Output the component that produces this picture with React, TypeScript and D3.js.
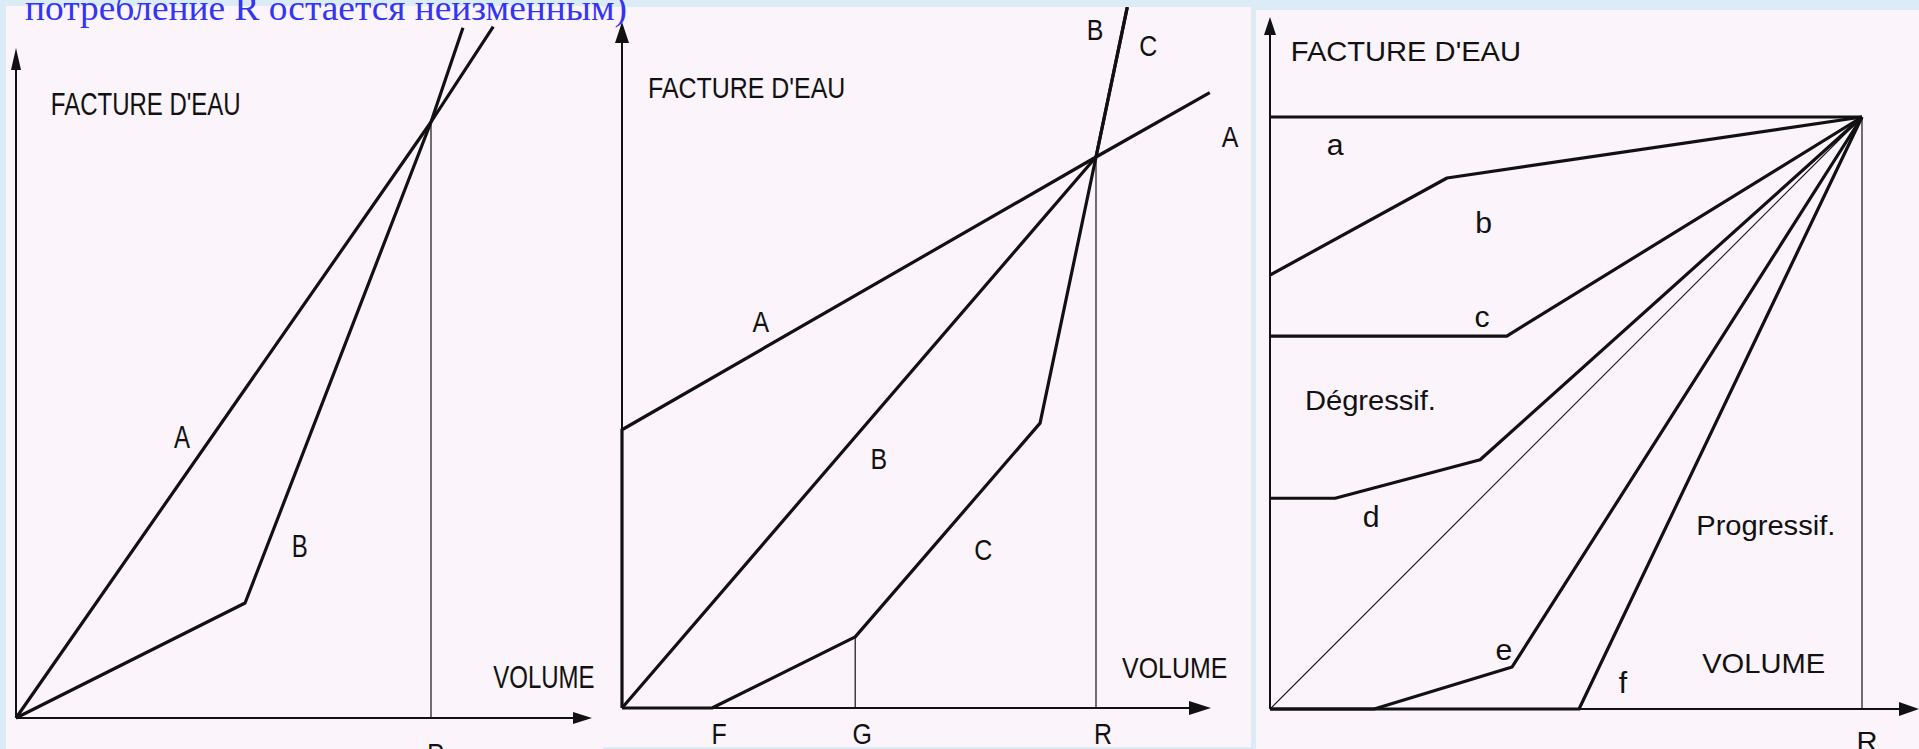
import React from "react";
import * as d3 from "d3";

type Pt = [number, number];

// ---------------- Caption ----------------
const captionText = "потребление R остается неизменным)";

// ---------------- Common axis titles ----------------
const yAxisTitle = "FACTURE D'EAU";
const xAxisTitle = "VOLUME";

// ---------------- Panel 1 : tariffs A and B ----------------
// volume in % of R, bill in % of the bill at R
const p1SeriesA: Pt[] = [[0, 0], [100, 100], [115, 116]];
const p1SeriesB: Pt[] = [[0, 0], [55.2, 19.3], [100, 100], [107.7, 115.8]];
const p1LabelNames = ["A", "B"];
const p1LabelAnchors: Pt[] = [[40, 45.3], [68.4, 27]];
const p1TickNames = ["R"];
const p1TickValues = [100];
const p1Guides: Pt[] = [[100, 100]];
const p1TitleAnchors: Pt[] = [[8.4, 101.2], [115, 5.0]];

// ---------------- Panel 2 : tariffs A, B, C ----------------
const p2SeriesA: Pt[] = [[0, 0], [0, 50.5], [100, 100], [124, 111.7]];
const p2SeriesB: Pt[] = [[0, 0], [100, 100], [106.6, 127.2]];
const p2SeriesC: Pt[] = [[0, 0], [19, 0], [49.2, 12.9], [88.2, 51.7], [100, 100], [106.6, 127.2]];
const p2LabelNames = ["A", "A", "B", "C", "B", "C"];
const p2LabelAnchors: Pt[] = [[29.3, 68.2], [128.3, 101.8], [99.8, 121.2], [111, 118.3], [54.2, 43.4], [76.2, 26.9]];
const p2TickNames = ["F", "G", "R"];
const p2TickValues = [19, 49.2, 100];
const p2Guides: Pt[] = [[49.2, 12.9], [100, 100]];
const p2TitleAnchors: Pt[] = [[5.5, 110.7], [105.5, 5.4]];

// ---------------- Panel 3 : tariffs a .. f ----------------
const p3SeriesA: Pt[] = [[0, 100], [100, 100]];
const p3SeriesB: Pt[] = [[0, 73.3], [29.9, 89.7], [100, 100]];
const p3SeriesC: Pt[] = [[0, 63], [40, 63], [100, 100]];
const p3SeriesD: Pt[] = [[0, 35.6], [11, 35.6], [35.5, 42.1], [100, 100]];
const p3SeriesE: Pt[] = [[0, 0], [17.6, 0], [40.9, 7.1], [100, 100]];
const p3SeriesF: Pt[] = [[0, 0], [52.2, 0], [100, 100]];
const p3Proportional: Pt[] = [[0, 0], [100, 100]];
const p3LabelNames = ["a", "b", "c", "d", "e", "f"];
const p3LabelAnchors: Pt[] = [[11, 93.6], [36.1, 80.4], [35.8, 64.5], [17.1, 30.7], [39.5, 8.3], [59.6, 2.7]];
const p3ZoneNames = ["Dégressif.", "Progressif."];
const p3ZoneAnchors: Pt[] = [[5.9, 50.5], [72, 29.4]];
const p3TickNames = ["R"];
const p3TickValues = [100];
const p3Guides: Pt[] = [[100, 100]];
const p3TitleAnchors: Pt[] = [[3.5, 109.5], [73, 6.1]];

// ---------------- Layout (pixels) ----------------
const W = 1919;
const H = 749;
const PAGE_BG = "#dcecf6";
const PANEL_BG = "#fbf4fa";
const INK = "#111111";
const FONT = "'Liberation Sans', Arial, Helvetica, sans-serif";

interface Layout {
  id: string;
  rect: [number, number, number, number];
  x0: number; xR: number; y0: number; yR: number;
  yTip: number; xTip: number;
  yArrow: [number, number]; xArrow: [number, number];
  font: number; sx: number; letterFont: number;
  tickDx: number; tickDy: number;
}

const layouts: Layout[] = [
  { id: "p1", rect: [6, 6, 597, 743], x0: 16, xR: 431, y0: 718, yR: 122, yTip: 48, xTip: 592,
    yArrow: [22, 5], xArrow: [19, 6], font: 32, sx: 0.75, letterFont: 32, tickDx: 5, tickDy: 48 },
  { id: "p2", rect: [603, 7, 648, 740], x0: 622, xR: 1096, y0: 708, yR: 157, yTip: 22, xTip: 1211,
    yArrow: [21, 7], xArrow: [22, 7], font: 29, sx: 0.86, letterFont: 29, tickDx: 7, tickDy: 35.5 },
  { id: "p3", rect: [1256, 10, 663, 739], x0: 1270, xR: 1862, y0: 709, yR: 117, yTip: 17, xTip: 1919,
    yArrow: [18, 6], xArrow: [20, 7], font: 28, sx: 1.04, letterFont: 29, tickDx: 5, tickDy: 42 },
];

interface PanelData {
  thick: Pt[][];
  thin: Pt[][];
  guides: Pt[];
  labelNames: string[];
  labelAnchors: Pt[];
  tickNames: string[];
  tickValues: number[];
  titleAnchors: Pt[];
  zoneNames?: string[];
  zoneAnchors?: Pt[];
}

const panelData: PanelData[] = [
  { thick: [p1SeriesA, p1SeriesB], thin: [], guides: p1Guides, labelNames: p1LabelNames,
    labelAnchors: p1LabelAnchors, tickNames: p1TickNames, tickValues: p1TickValues, titleAnchors: p1TitleAnchors },
  { thick: [p2SeriesA, p2SeriesB, p2SeriesC], thin: [], guides: p2Guides, labelNames: p2LabelNames,
    labelAnchors: p2LabelAnchors, tickNames: p2TickNames, tickValues: p2TickValues, titleAnchors: p2TitleAnchors },
  { thick: [p3SeriesA, p3SeriesB, p3SeriesC, p3SeriesD, p3SeriesE, p3SeriesF], thin: [p3Proportional],
    guides: p3Guides, labelNames: p3LabelNames, labelAnchors: p3LabelAnchors, tickNames: p3TickNames,
    tickValues: p3TickValues, titleAnchors: p3TitleAnchors, zoneNames: p3ZoneNames, zoneAnchors: p3ZoneAnchors },
];

function CondensedText(props: { x: number; y: number; sx: number; size: number; anchor?: string; children: string }) {
  const { x, y, sx, size, anchor, children } = props;
  return (
    <text
      transform={`translate(${x},${y}) scale(${sx},1)`}
      fontFamily={FONT}
      fontSize={size}
      fill={INK}
      textAnchor={anchor || "start"}
    >
      {children}
    </text>
  );
}

function Panel({ L, D }: { L: Layout; D: PanelData }) {
  const x = d3.scaleLinear().domain([0, 100]).range([L.x0, L.xR]);
  const y = d3.scaleLinear().domain([0, 100]).range([L.y0, L.yR]);
  const line = d3.line<Pt>().x((d) => x(d[0])).y((d) => y(d[1]));
  const [rx, ry, rw, rh] = L.rect;

  const yArrowPath = `M${L.x0},${L.yTip} L${L.x0 - L.yArrow[1]},${L.yTip + L.yArrow[0]} L${L.x0 + L.yArrow[1]},${L.yTip + L.yArrow[0]} Z`;
  const xArrowPath = `M${L.xTip},${L.y0} L${L.xTip - L.xArrow[0]},${L.y0 - L.xArrow[1]} L${L.xTip - L.xArrow[0]},${L.y0 + L.xArrow[1]} Z`;

  return (
    <g>
      <defs>
        <clipPath id={`clip-${L.id}`}>
          <rect x={rx} y={ry} width={rw} height={rh} />
        </clipPath>
      </defs>
      <rect x={rx} y={ry} width={rw} height={rh} fill={PANEL_BG} />
      <g clipPath={`url(#clip-${L.id})`}>
        {/* guide lines */}
        {D.guides.map((g, i) => (
          <line key={`g${i}`} x1={x(g[0])} x2={x(g[0])} y1={y(0)} y2={y(g[1])} stroke={INK} strokeWidth={1.2} />
        ))}
        {/* axes */}
        <line x1={L.x0} x2={L.x0} y1={L.y0} y2={L.yTip + L.yArrow[0] - 1} stroke={INK} strokeWidth={2} />
        <path d={yArrowPath} fill={INK} />
        <line x1={L.x0} x2={L.xTip - L.xArrow[0] + 1} y1={L.y0} y2={L.y0} stroke={INK} strokeWidth={2.2} />
        <path d={xArrowPath} fill={INK} />
        {/* series */}
        {D.thin.map((s, i) => (
          <path key={`t${i}`} d={line(s) || ""} fill="none" stroke={INK} strokeWidth={1.1} />
        ))}
        {D.thick.map((s, i) => (
          <path key={`s${i}`} d={line(s) || ""} fill="none" stroke={INK} strokeWidth={3.2}
            strokeLinejoin="round" strokeLinecap="butt" />
        ))}
        {/* axis titles */}
        <CondensedText x={x(D.titleAnchors[0][0])} y={y(D.titleAnchors[0][1])} sx={L.sx} size={L.font}>
          {yAxisTitle}
        </CondensedText>
        <CondensedText x={x(D.titleAnchors[1][0])} y={y(D.titleAnchors[1][1])} sx={L.sx} size={L.font}>
          {xAxisTitle}
        </CondensedText>
        {/* series labels */}
        {D.labelNames.map((n, i) => (
          <CondensedText key={`l${i}`} x={x(D.labelAnchors[i][0])} y={y(D.labelAnchors[i][1])}
            sx={L.sx} size={L.letterFont} anchor="middle">
            {n}
          </CondensedText>
        ))}
        {/* zone labels */}
        {(D.zoneNames || []).map((n, i) => (
          <CondensedText key={`z${i}`} x={x(D.zoneAnchors![i][0])} y={y(D.zoneAnchors![i][1])}
            sx={L.sx} size={L.font}>
            {n}
          </CondensedText>
        ))}
        {/* tick labels */}
        {D.tickNames.map((n, i) => (
          <CondensedText key={`k${i}`} x={x(D.tickValues[i]) + L.tickDx} y={L.y0 + L.tickDy}
            sx={L.sx} size={L.font} anchor="middle">
            {n}
          </CondensedText>
        ))}
      </g>
    </g>
  );
}

export default function App() {
  return (
    <svg
      width={W}
      height={H}
      viewBox={`0 0 ${W} ${H}`}
      style={{ position: "absolute", left: 0, top: 0, display: "block" }}
    >
      <rect x={0} y={0} width={W} height={H} fill={PAGE_BG} />
      {layouts.map((L, i) => (
        <Panel key={L.id} L={L} D={panelData[i]} />
      ))}
      <text
        x={25}
        y={20}
        fontFamily="'Liberation Serif', 'Times New Roman', serif"
        fontSize={36}
        fill="#3434f4"
        textLength={602}
        lengthAdjust="spacingAndGlyphs"
      >
        {captionText}
      </text>
    </svg>
  );
}
